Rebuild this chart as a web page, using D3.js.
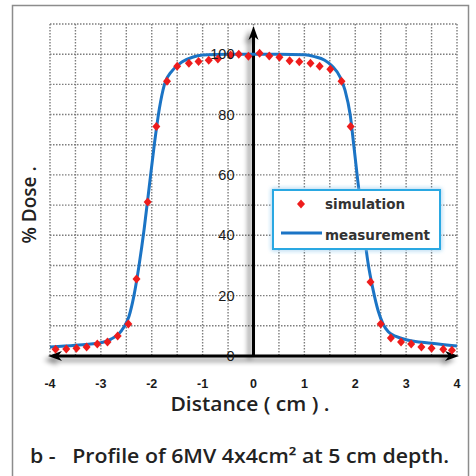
<!DOCTYPE html>
<html>
<head>
<meta charset="utf-8">
<script src="https://cdn.jsdelivr.net/npm/d3@7"></script>
<style>
  html, body { margin: 0; padding: 0; background: #fff; }
  svg { display: block; }
</style>
</head>
<body>
<svg id="chart" width="476" height="476"></svg>
<script>
// Beam profile: 6MV, 4x4 cm² field, 5 cm depth
const measX = [-4, -3.5, -3.0, -2.8, -2.65, -2.55, -2.45, -2.35, -2.25, -2.15, -2.05, -1.95, -1.85, -1.75, -1.6, -1.4, -1.2, -1.0, -0.5, 0, 0.5, 1.0, 1.2, 1.4, 1.55, 1.7, 1.8, 1.9, 1.97, 2.05, 2.15, 2.25, 2.35, 2.45, 2.55, 2.65, 2.8, 3.0, 3.5, 4.0];
const measY = [3.0, 3.6, 4.4, 5.6, 7.3, 9.5, 13, 20, 30, 42, 56, 70, 82, 90, 94.5, 97.5, 99, 99.7, 100, 100, 100, 99.8, 99.2, 98, 96, 92.5, 88, 80, 70, 58, 44, 31, 22, 15, 10.5, 8, 6.5, 5.4, 4.2, 3.3];

const simX = [-3.89, -3.68, -3.48, -3.28, -3.07, -2.87, -2.67, -2.46, -2.3, -2.08, -1.91, -1.70, -1.50, -1.27, -1.08, -0.88, -0.70, -0.45, -0.29, -0.10, 0.12, 0.31, 0.51, 0.71, 0.90, 1.12, 1.30, 1.51, 1.73, 1.91, 2.10, 2.30, 2.50, 2.70, 2.90, 3.10, 3.30, 3.50, 3.73, 3.90];
const simY = [2.2, 2.3, 2.6, 3.0, 4.0, 4.6, 6.6, 10.6, 25.5, 51, 76, 91, 96, 97, 97.6, 98, 98.4, 99.7, 100, 99.3, 100.3, 99.4, 99, 97.8, 97.5, 97, 96, 95, 91, 76, 51, 24.5, 10.6, 6.0, 4.6, 4.0, 3.0, 2.6, 2.2, 1.9];

const xTicks = [-4, -3, -2, -1, 0, 1, 2, 3, 4];
const yTicks = [0, 20, 40, 60, 80, 100];

const svg = d3.select("#chart");

const x = d3.scaleLinear().domain([-4, 4]).range([50, 457]);
const y = d3.scaleLinear().domain([0, 110]).range([356, 24]);

const defs = svg.append("defs");
const shadow = defs.append("filter").attr("id", "axisShadow")
  .attr("x", "-50%").attr("y", "-50%").attr("width", "200%").attr("height", "200%");
shadow.append("feGaussianBlur").attr("in", "SourceAlpha").attr("stdDeviation", 2.8).attr("result", "b");
shadow.append("feOffset").attr("in", "b").attr("dx", -4).attr("dy", 4).attr("result", "o");
shadow.append("feComponentTransfer").attr("in", "o").attr("result", "s")
  .append("feFuncA").attr("type", "linear").attr("slope", 0.5);
const sm = shadow.append("feMerge");
sm.append("feMergeNode").attr("in", "s");
sm.append("feMergeNode").attr("in", "SourceGraphic");

const glow = defs.append("filter").attr("id", "legendGlow")
  .attr("x", "-20%").attr("y", "-40%").attr("width", "140%").attr("height", "180%");
glow.append("feGaussianBlur").attr("in", "SourceGraphic").attr("stdDeviation", 2).attr("result", "g");
const gm = glow.append("feMerge");
gm.append("feMergeNode").attr("in", "g");
gm.append("feMergeNode").attr("in", "SourceGraphic");

// outer frame
svg.append("rect").attr("x", 12.5).attr("y", 5.5).attr("width", 456).attr("height", 490)
  .attr("fill", "#fff").attr("stroke", "#8c8c8c").attr("stroke-width", 1.5);

// dotted grid
const grid = svg.append("g").attr("stroke", "#7d7d7d").attr("stroke-width", 1.4)
  .attr("stroke-dasharray", "1.5,1.5");
grid.selectAll("line.v").data(d3.range(-4, 4.01, 0.5)).join("line")
  .attr("x1", d => x(d)).attr("x2", d => x(d)).attr("y1", y(110)).attr("y2", y(0));
grid.selectAll("line.h").data(d3.range(10, 110.1, 10)).join("line")
  .attr("x1", x(-4)).attr("x2", x(4)).attr("y1", d => y(d)).attr("y2", d => y(d));

// axes with arrowheads
const axes = svg.append("g").attr("filter", "url(#axisShadow)");
axes.append("line").attr("x1", x(-4) + 6).attr("x2", x(4) - 6).attr("y1", y(0)).attr("y2", y(0))
  .attr("stroke", "#000").attr("stroke-width", 3);
axes.append("path").attr("fill", "#000")
  .attr("d", `M${x(4) + 2},${y(0)} L${x(4) - 12},${y(0) - 5} L${x(4) - 8},${y(0)} L${x(4) - 12},${y(0) + 5} Z`);
axes.append("path").attr("fill", "#000")
  .attr("d", `M${x(-4) - 2},${y(0)} L${x(-4) + 12},${y(0) - 5} L${x(-4) + 8},${y(0)} L${x(-4) + 12},${y(0) + 5} Z`);
axes.append("line").attr("x1", x(0)).attr("x2", x(0)).attr("y1", y(0)).attr("y2", y(110) + 10)
  .attr("stroke", "#000").attr("stroke-width", 3);
axes.append("path").attr("fill", "#000")
  .attr("d", `M${x(0)},${y(110) + 2} L${x(0) - 5},${y(110) + 16} L${x(0)},${y(110) + 12} L${x(0) + 5},${y(110) + 16} Z`);

// measurement curve
const line = d3.line().x(d => x(d[0])).y(d => y(d[1])).curve(d3.curveMonotoneX);
svg.append("path").datum(measX.map((v, i) => [v, measY[i]]))
  .attr("d", line).attr("fill", "none").attr("stroke", "#1b74c5").attr("stroke-width", 3);

// simulation points
const diamond = "M0,-4.5L4,0L0,4.5L-4,0Z";
svg.append("g").selectAll("path").data(simX.map((v, i) => [v, simY[i]])).join("path")
  .attr("d", diamond).attr("fill", "#ee1c1c")
  .attr("transform", d => `translate(${x(d[0])},${y(d[1])})`);

// tick labels
svg.append("g").selectAll("text").data(xTicks).join("text")
  .attr("x", d => x(d)).attr("y", 388).attr("text-anchor", "middle")
  .attr("font-family", "Liberation Sans, Arial, sans-serif").attr("font-size", 12.5)
  .attr("font-weight", "bold").attr("fill", "#1a1a1a").text(d => d);

svg.append("g").selectAll("text").data(yTicks).join("text")
  .attr("x", x(0) - 19).attr("y", d => y(d) + 5).attr("text-anchor", "end")
  .attr("font-family", "Liberation Sans, Arial, sans-serif").attr("font-size", 14.5)
  .attr("fill", "#1a1a1a").text(d => d);

// axis titles
svg.append("text").attr("x", 250).attr("y", 411).attr("text-anchor", "middle")
  .attr("font-family", "Open Sans, sans-serif").attr("font-size", 19).attr("font-weight", 600)
  .attr("fill", "#222").attr("textLength", 159).attr("lengthAdjust", "spacingAndGlyphs")
  .text("Distance ( cm ) .");
svg.append("text").attr("transform", "translate(36,205) rotate(-90)").attr("text-anchor", "middle")
  .attr("font-family", "Open Sans, sans-serif").attr("font-size", 19).attr("font-weight", 600)
  .attr("fill", "#222").text("% Dose .");

// caption
svg.append("text").attr("x", 30).attr("y", 463)
  .attr("font-family", "Open Sans, sans-serif").attr("font-size", 19).attr("font-weight", 600)
  .attr("fill", "#222").attr("textLength", 419).attr("lengthAdjust", "spacingAndGlyphs")
  .attr("xml:space", "preserve")
  .text("b -   Profile of 6MV 4x4cm² at 5 cm depth.");

// legend
const lg = svg.append("g");
lg.append("rect").attr("x", 273).attr("y", 190).attr("width", 167).attr("height", 59)
  .attr("fill", "#fff").attr("stroke", "#2aa8e2").attr("stroke-width", 2).attr("filter", "url(#legendGlow)");
lg.append("rect").attr("x", 273).attr("y", 190).attr("width", 167).attr("height", 59)
  .attr("fill", "#fff").attr("stroke", "#2aa8e2").attr("stroke-width", 2);
lg.append("path").attr("d", diamond).attr("fill", "#ee1c1c").attr("transform", "translate(301,204)");
lg.append("line").attr("x1", 281).attr("x2", 322).attr("y1", 233).attr("y2", 233)
  .attr("stroke", "#1b74c5").attr("stroke-width", 3);
lg.append("text").attr("x", 325).attr("y", 209)
  .attr("font-family", "DejaVu Sans, sans-serif").attr("font-size", 13.5).attr("font-weight", "bold")
  .attr("fill", "#333").text("simulation");
lg.append("text").attr("x", 325).attr("y", 240)
  .attr("font-family", "DejaVu Sans, sans-serif").attr("font-size", 13.5).attr("font-weight", "bold")
  .attr("fill", "#333").attr("textLength", 105).attr("lengthAdjust", "spacingAndGlyphs").text("measurement");
</script>
</body>
</html>
